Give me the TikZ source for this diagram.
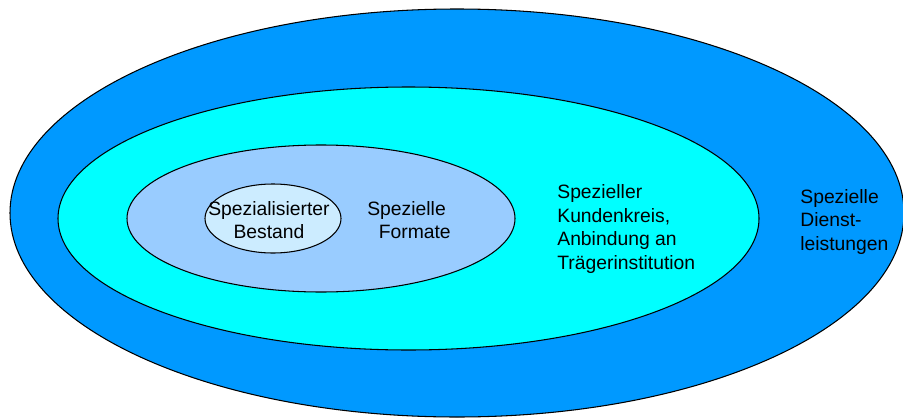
\documentclass[tikz,border=0pt]{standalone}
\usepackage{fontspec}
\setmainfont{Liberation Sans}
\usepackage{tikz}
\definecolor{dienstblue}{HTML}{0099FF}
\definecolor{kundencyan}{HTML}{00FFFF}
\definecolor{formatblue}{HTML}{99CCFF}
\definecolor{bestandblue}{HTML}{CCECFF}
\tikzset{
  ring/.style={draw=black, line width=0.6pt},
  lbl/.style={font=\fontsize{11}{13.4}\selectfont, text=black}
}

\begin{document}
\begin{tikzpicture}[scale=0.2]
\tikzstyle{every node}+=[inner sep=0pt]
\useasboundingbox (0,0) rectangle (90.3,-41.9);
\draw [ring, fill=dienstblue] (45.7,-21.3) ellipse (44.7 and 20.4);
\draw [ring, fill=kundencyan] (40.85,-21.85) ellipse (35.05 and 13.15);
\draw [ring, fill=formatblue] (32.1,-21.85) ellipse (19.4 and 7.35);
\draw [ring, fill=bestandblue] (27.3,-21.85) ellipse (6.8 and 3.45);
\node [lbl, align=center] (bestand) at (26.9,-22.0) {Spezialisierter\\Bestand};
\node [lbl, align=left, anchor=west] (formate) at (36.7,-22.0) {Spezielle\\\hspace{6.5pt}Formate};
\node [lbl, align=left, anchor=west] (kunden) at (55.7,-22.9) {Spezieller\\Kundenkreis,\\Anbindung an\\Trägerinstitution};
\node [lbl, align=left, anchor=west] (dienst) at (80.0,-22.2) {Spezielle\\Dienst-\\leistungen};
\end{tikzpicture}
\end{document}
